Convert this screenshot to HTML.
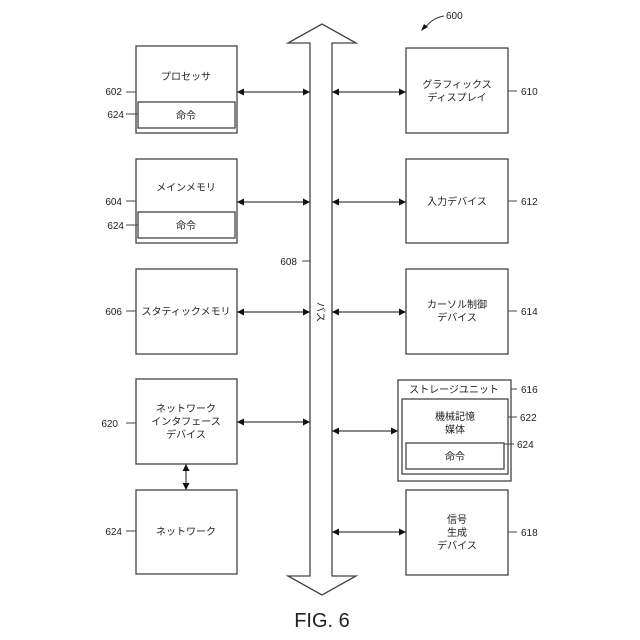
<!DOCTYPE html>
<html><head><meta charset="utf-8"><style>
html,body{margin:0;padding:0;background:#fff}
svg{display:block}
text{font-family:"Liberation Sans","Noto Sans CJK JP",sans-serif;fill:#222}
</style></head><body>
<svg width="640" height="640" viewBox="0 0 640 640" xmlns="http://www.w3.org/2000/svg">
<defs>
<marker id="a" viewBox="0 0 10 10" refX="10" refY="5" markerWidth="10" markerHeight="7" orient="auto-start-reverse" markerUnits="userSpaceOnUse"><path d="M0,0L10,5L0,10z" fill="#111"/></marker>
</defs>
<g fill="none" stroke="#444" stroke-width="1.3">
<path d="M310,43 L288,43 L322,24 L356,43 L332,43 L332,576 L356,576 L322,595 L288,576 L310,576 Z"/>
<rect x="136" y="46" width="101" height="87"/>
<rect x="138" y="102" width="97" height="26"/>
<rect x="136" y="159" width="101" height="84"/>
<rect x="138" y="212" width="97" height="26"/>
<rect x="136" y="269" width="101" height="85"/>
<rect x="136" y="379" width="101" height="85"/>
<rect x="136" y="490" width="101" height="84"/>
<rect x="406" y="48" width="102" height="85"/>
<rect x="406" y="159" width="102" height="84"/>
<rect x="406" y="269" width="102" height="85"/>
<rect x="398" y="380" width="113" height="101"/>
<rect x="402" y="399" width="106" height="75"/>
<rect x="406" y="443" width="98" height="26"/>
<rect x="406" y="490" width="102" height="85"/>
</g>
<g stroke="#111" stroke-width="1" marker-start="url(#a)" marker-end="url(#a)">
<line x1="237" y1="92" x2="310" y2="92"/>
<line x1="237" y1="202" x2="310" y2="202"/>
<line x1="237" y1="312" x2="310" y2="312"/>
<line x1="237" y1="422" x2="310" y2="422"/>
<line x1="332" y1="92" x2="406" y2="92"/>
<line x1="332" y1="202" x2="406" y2="202"/>
<line x1="332" y1="312" x2="406" y2="312"/>
<line x1="332" y1="431" x2="398" y2="431"/>
<line x1="332" y1="532" x2="406" y2="532"/>
<line x1="186" y1="464" x2="186" y2="490"/>
</g>
<g stroke="#444" stroke-width="1">
<line x1="126" y1="92" x2="136" y2="92"/>
<line x1="126" y1="114" x2="138" y2="114"/>
<line x1="126" y1="201" x2="136" y2="201"/>
<line x1="126" y1="225" x2="138" y2="225"/>
<line x1="126" y1="311" x2="136" y2="311"/>
<line x1="126" y1="423" x2="136" y2="423"/>
<line x1="126" y1="531" x2="136" y2="531"/>
<line x1="508" y1="91" x2="517" y2="91"/>
<line x1="508" y1="201" x2="517" y2="201"/>
<line x1="508" y1="311" x2="517" y2="311"/>
<line x1="511" y1="389" x2="517" y2="389"/>
<line x1="508" y1="417" x2="517" y2="417"/>
<line x1="504" y1="444" x2="514" y2="444"/>
<line x1="508" y1="532" x2="517" y2="532"/>
<line x1="302" y1="261" x2="310" y2="261"/>
</g>
<path d="M444,16 Q432,18 425,28" fill="none" stroke="#333" stroke-width="1"/>
<path d="M421,31 L424,24 L428,27 Z" fill="#111"/>
<g font-size="10" text-anchor="middle">
<text x="186" y="80">プロセッサ</text>
<text x="186" y="119">命令</text>
<text x="186" y="191">メインメモリ</text>
<text x="186" y="229">命令</text>
<text x="186" y="315">スタティックメモリ</text>
<text x="186" y="412">ネットワーク</text>
<text x="186" y="425">インタフェース</text>
<text x="186" y="438">デバイス</text>
<text x="186" y="535">ネットワーク</text>
<text x="457" y="88">グラフィックス</text>
<text x="457" y="101">ディスプレイ</text>
<text x="457" y="205">入力デバイス</text>
<text x="457" y="308">カーソル制御</text>
<text x="457" y="321">デバイス</text>
<text x="454" y="393">ストレージユニット</text>
<text x="455" y="420">機械記憶</text>
<text x="455" y="433">媒体</text>
<text x="455" y="460">命令</text>
<text x="457" y="523">信号</text>
<text x="457" y="536">生成</text>
<text x="457" y="549">デバイス</text>
</g>
<g font-size="10" text-anchor="end">
<text x="122" y="95">602</text>
<text x="124" y="118">624</text>
<text x="122" y="205">604</text>
<text x="124" y="229">624</text>
<text x="122" y="315">606</text>
<text x="118" y="427">620</text>
<text x="122" y="535">624</text>
<text x="297" y="265">608</text>
</g>
<g font-size="10">
<text x="521" y="95">610</text>
<text x="521" y="205">612</text>
<text x="521" y="315">614</text>
<text x="521" y="393">616</text>
<text x="520" y="421">622</text>
<text x="517" y="448">624</text>
<text x="521" y="536">618</text>
<text x="446" y="19">600</text>
</g>
<text x="0" y="0" font-size="10" transform="translate(317,302) rotate(90)">バス</text>
<text x="322" y="627" font-size="20" text-anchor="middle">FIG. 6</text>
</svg>
</body></html>
